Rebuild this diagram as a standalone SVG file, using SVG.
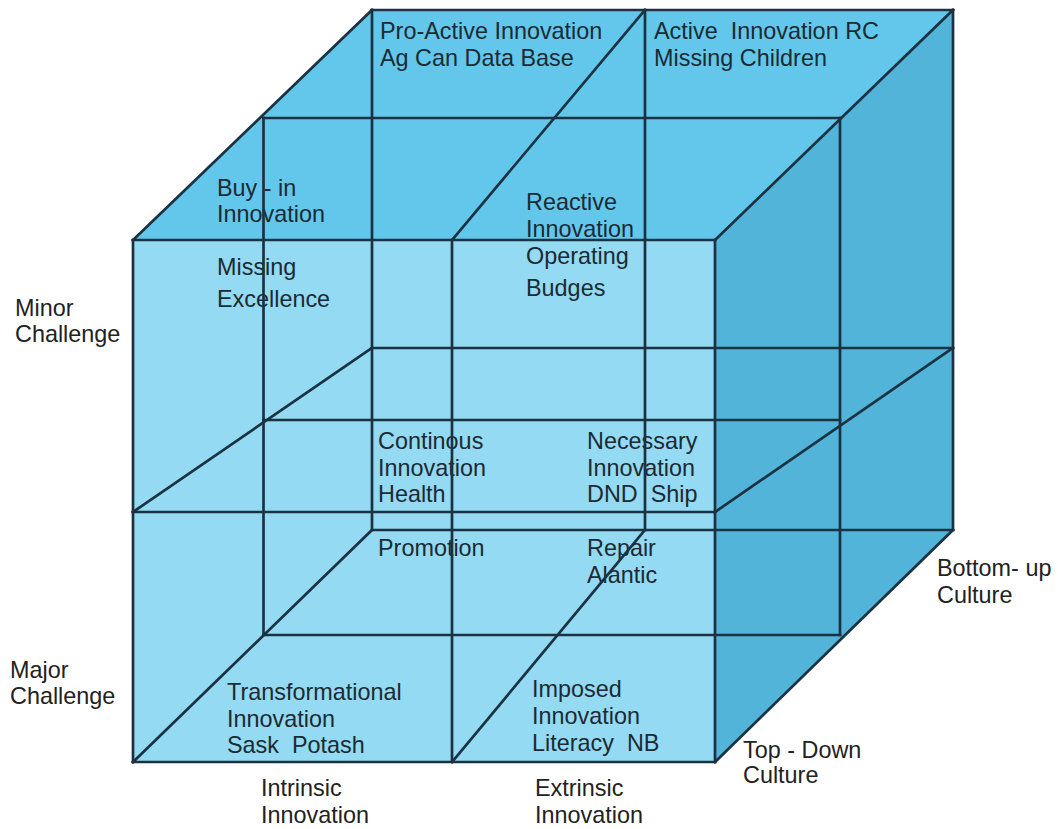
<svg xmlns="http://www.w3.org/2000/svg" width="1058" height="829" viewBox="0 0 1058 829">
<style>
text{font-family:"Liberation Sans",Arial,sans-serif;font-size:23.4px;fill:#222}
.in{fill:#1c2a33}
.ln{stroke:#1a3242;stroke-width:2.7;fill:none;stroke-linecap:square}
</style>
<rect x="0" y="0" width="1058" height="829" fill="#ffffff"/>
<g id="faces">
<polygon id="top-face" points="372,10 953,10 715,240 133,240" fill="#62c7ea"/>
<polygon id="right-face" points="953,10 953,530 715,762 715,240" fill="#52b4d8"/>
<rect id="front-face" x="133" y="240" width="582" height="522" fill="#93daf2"/>
</g>
<g id="cell-labels">
<g id="pro-active"><text class="in" x="380" y="39">Pro-Active Innovation</text><text class="in" x="380" y="66">Ag Can Data Base</text></g>
<g id="active"><text class="in" x="654" y="39" xml:space="preserve">Active  Innovation RC</text><text class="in" x="654" y="66">Missing Children</text></g>
<g id="buy-in"><text class="in" x="217" y="196">Buy - in</text><text class="in" x="217" y="222">Innovation</text><text class="in" x="217" y="275">Missing</text><text class="in" x="217" y="307">Excellence</text></g>
<g id="reactive"><text class="in" x="526" y="210">Reactive</text><text class="in" x="526" y="237">Innovation</text><text class="in" x="526" y="264">Operating</text><text class="in" x="526" y="296">Budges</text></g>
<g id="continous"><text class="in" x="378" y="449">Continous</text><text class="in" x="378" y="476">Innovation</text><text class="in" x="378" y="502">Health</text><text class="in" x="378" y="556">Promotion</text></g>
<g id="necessary"><text class="in" x="587" y="449">Necessary</text><text class="in" x="587" y="476">Innovation</text><text class="in" x="587" y="502" xml:space="preserve">DND  Ship</text><text class="in" x="587" y="556">Repair</text><text class="in" x="587" y="583">Alantic</text></g>
<g id="transformational"><text class="in" x="227" y="700">Transformational</text><text class="in" x="227" y="727">Innovation</text><text class="in" x="227" y="753" xml:space="preserve">Sask  Potash</text></g>
<g id="imposed"><text class="in" x="532" y="697">Imposed</text><text class="in" x="532" y="724">Innovation</text><text class="in" x="532" y="751" xml:space="preserve">Literacy  NB</text></g>
</g>
<g id="connectors" class="ln">
<line x1="372" y1="10" x2="953" y2="10"/>
<line x1="263.5" y1="118" x2="840" y2="118"/>
<line x1="133" y1="240" x2="715" y2="240"/>
<line x1="372" y1="348" x2="953" y2="348"/>
<line x1="263.5" y1="420" x2="840" y2="420"/>
<line x1="133" y1="512" x2="715" y2="512"/>
<line x1="372" y1="530" x2="953" y2="530"/>
<line x1="263.5" y1="635" x2="840" y2="635"/>
<line x1="133" y1="762" x2="715" y2="762"/>
<line x1="133" y1="240" x2="133" y2="762"/>
<line x1="452" y1="240" x2="452" y2="762"/>
<line x1="715" y1="240" x2="715" y2="762"/>
<line x1="263.5" y1="118" x2="263.5" y2="635"/>
<line x1="840" y1="118" x2="840" y2="635"/>
<line x1="372" y1="10" x2="372" y2="530"/>
<line x1="645" y1="10" x2="645" y2="530"/>
<line x1="953" y1="10" x2="953" y2="530"/>
<line x1="372" y1="10" x2="133" y2="240"/>
<line x1="645" y1="10" x2="452" y2="240"/>
<line x1="953" y1="10" x2="715" y2="240"/>
<line x1="372" y1="348" x2="133" y2="512"/>
<line x1="953" y1="348" x2="715" y2="512"/>
<line x1="372" y1="530" x2="133" y2="762"/>
<line x1="645" y1="530" x2="452" y2="762"/>
<line x1="953" y1="530" x2="715" y2="762"/>
</g>
<g id="axis-labels">
<g id="minor"><text x="15" y="316">Minor</text><text x="15" y="342">Challenge</text></g>
<g id="major"><text x="10" y="678">Major</text><text x="10" y="704">Challenge</text></g>
<g id="bottom-up"><text x="937" y="576">Bottom- up</text><text x="937" y="603">Culture</text></g>
<g id="top-down"><text x="743" y="758">Top - Down</text><text x="743" y="783">Culture</text></g>
<g id="intrinsic"><text x="261" y="796">Intrinsic</text><text x="261" y="823">Innovation</text></g>
<g id="extrinsic"><text x="535" y="796">Extrinsic</text><text x="535" y="823">Innovation</text></g>
</g>
</svg>
